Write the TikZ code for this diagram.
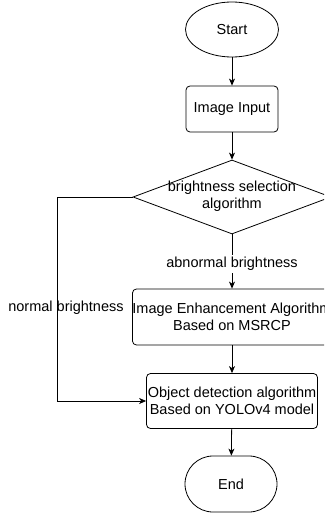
\documentclass[tikz,border=0pt]{standalone}
\usepackage{fontspec}
\setmainfont{Liberation Sans}
\usetikzlibrary{shapes.geometric,arrows.meta}
\begin{document}
\begin{tikzpicture}[x=1pt,y=-1pt,
  txt/.style={font=\fontsize{14.5}{17.5}\selectfont, align=center, inner sep=0pt},
  box/.style={txt, draw, rounded corners=4pt, line width=0.8pt},
  term/.style={txt, draw, line width=0.8pt},
  arr/.style={-{Stealth[length=7pt,width=6pt,inset=2pt]}, line width=0.8pt},
  ln/.style={line width=0.8pt}]
\useasboundingbox (0,0) rectangle (324,516);
\clip (0,0) rectangle (324,516);
\node[term, ellipse, minimum width=93pt, minimum height=55pt] (start) at (232,29.5) {Start};
\node[box, minimum width=92pt, minimum height=46pt] (input) at (232,109) {Image Input};
\node[term, diamond, minimum width=198pt, minimum height=74pt] (dec) at (232,197) {};
\node[txt] (dect) at (232,196) {brightness selection\\algorithm};
\node[box, minimum width=194pt, minimum height=56pt] (enh) at (232,317) {Image Enhancement Algorithm\\Based on MSRCP};
\node[box, minimum width=171pt, minimum height=55pt] (obj) at (232,401) {Object detection algorithm\\Based on YOLOv4 model};
\node[term, rounded corners=28pt, minimum width=92pt, minimum height=56pt] (end) at (231,484) {End};
\coordinate (lt) at (57,197);
\coordinate (lb) at (57,401);
\draw[arr] (start) -- (input);
\draw[arr] (input) -- (dec);
\draw[arr] (dec) -- node[txt, fill=white, inner sep=2pt, pos=0.55] (ab) {abnormal brightness} (enh);
\draw[arr] (enh) -- (obj);
\draw[arr] (obj) -- (end);
\draw[arr] (dec.west) -- (lt) -- (lb) -- (obj.west);
\node[txt] (nb) at (66,308) {normal brightness};
\end{tikzpicture}
\end{document}
